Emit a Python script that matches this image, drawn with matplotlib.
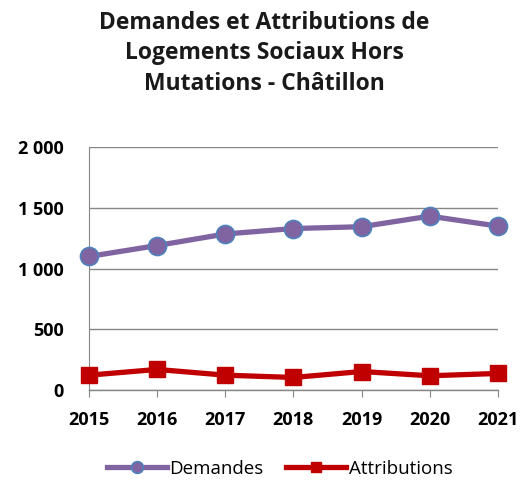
import matplotlib
matplotlib.use("Agg")
import matplotlib.pyplot as plt
from matplotlib.ticker import FuncFormatter

years = [2015, 2016, 2017, 2018, 2019, 2020, 2021]
demandes = [1100, 1190, 1285, 1330, 1345, 1432, 1350]
attributions = [123, 170, 123, 104, 153, 118, 137]
yticks = [0, 500, 1000, 1500, 2000]

plt.rcParams['font.family'] = ['Open Sans', 'DejaVu Sans']

fig = plt.figure(figsize=(5.23, 4.84), dpi=100)
ax = fig.add_axes([0.170, 0.194, 0.782, 0.502])

ax.plot(years, demandes, color='#8064A2', lw=3.8, marker='o', ms=13,
        mfc='#8064A2', mec='#4F81BD', mew=1.2, label='Demandes', zorder=3)
ax.plot(years, attributions, color='#C00000', lw=3.8, marker='s', ms=12,
        mfc='#C00000', mec='#C00000', label='Attributions', zorder=3)

ax.set_xlim(years[0], years[-1])
ax.set_ylim(0, 2000)
ax.set_yticks(yticks)
ax.yaxis.set_major_formatter(FuncFormatter(lambda v, p: f"{int(v):,}".replace(",", " ")))
ax.set_xticks(years)
ax.grid(axis='y', color='#868686', lw=1)
ax.set_axisbelow(True)
for s in ['top', 'right', 'bottom']:
    ax.spines[s].set_visible(False)
ax.spines['left'].set_color('#868686')
ax.tick_params(axis='y', length=0, pad=18)
ax.tick_params(axis='x', length=5, color='#868686', pad=10)
for lab in ax.get_xticklabels() + ax.get_yticklabels():
    lab.set_fontweight('bold')
    lab.set_fontsize(13)
ax.axhline(0, color='#868686', lw=1, clip_on=False, zorder=1)

for l in ax.lines:
    l.set_clip_on(False)

fig.text(0.505, 0.978, "Demandes et Attributions de\nLogements Sociaux Hors\nMutations - Châtillon",
         ha='center', va='top', fontsize=16.5, fontweight='bold', linespacing=1.38,
         color='#1a1a1a')

fig.legend(loc='lower center', bbox_to_anchor=(0.535, -0.022), ncol=2, frameon=False,
           fontsize=13.5, handlelength=3.2, columnspacing=1.2, handletextpad=0.12,
           markerscale=0.65)

fig.savefig("out.png", dpi=100)
